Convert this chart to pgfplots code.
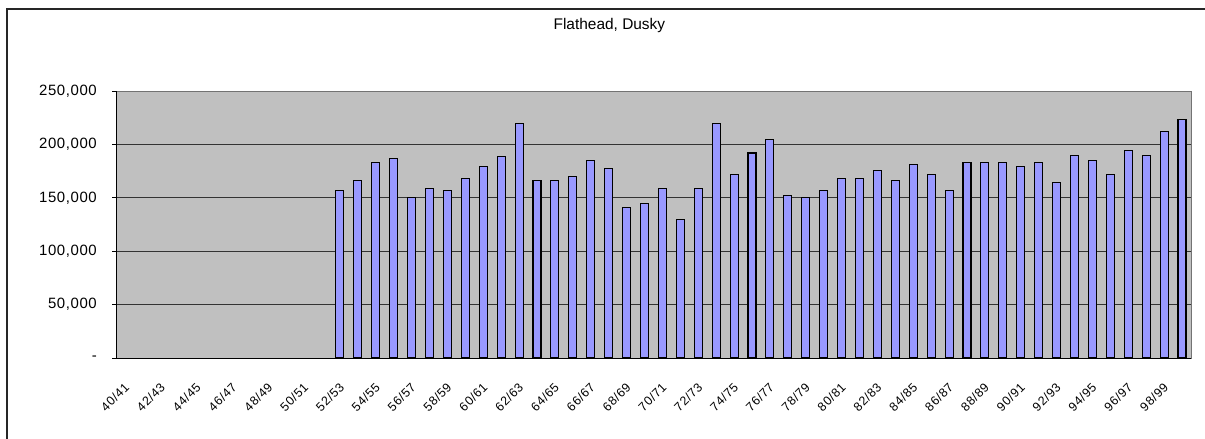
\documentclass[border=0pt]{standalone}
\usepackage{fontspec}
\setmainfont{Liberation Sans}
\usepackage{pgfplots}
\pgfplotsset{compat=1.18}
\definecolor{barblue}{HTML}{9999FF}
\definecolor{plotgray}{HTML}{C0C0C0}
\newfontfamily\ylabfont[LetterSpace=4]{Liberation Sans}
\newfontfamily\xlabfont[LetterSpace=5]{Liberation Sans}
\begin{document}
\begin{tikzpicture}
\path[use as bounding box] (0bp,0bp) rectangle (1205bp,-439bp);
\draw[line width=1.6bp, black!85] (7bp,-440bp) -- (7bp,-9bp) -- (1206bp,-9bp);
\begin{axis}[
  at={(116bp,-358bp)}, anchor=south west,
  scale only axis, width=1075bp, height=267bp,
  xmin=-0.5, xmax=59.5, ymin=0, ymax=250000,
  scaled ticks=false,
  ybar, bar width=8bp,
  axis background/.style={fill=plotgray},
  axis line style={draw=gray!90!black, line width=0.8bp},
  title={Flathead, Dusky},
  title style={at={(0.459,1)}, anchor=center, yshift=59.5bp, font=\fontsize{15.5}{18}\selectfont},
  xtick={0,2,...,58},
  xticklabels={40/41,42/43,44/45,46/47,48/49,50/51,52/53,54/55,56/57,58/59,60/61,62/63,64/65,66/67,68/69,70/71,72/73,74/75,76/77,78/79,80/81,82/83,84/85,86/87,88/89,90/91,92/93,94/95,96/97,98/99},
  xtick style={draw=none},
  minor xtick={-0.5,0.5,...,59.5},
  minor x tick style={black, line width=0.8bp},
  minor tick length=4bp,
  xticklabel style={rotate=45, anchor=north east, inner sep=0pt, font=\xlabfont\fontsize{12.5}{14}\selectfont, xshift=-15bp, yshift=-13bp},
  ytick={0,50000,100000,150000,200000,250000},
  yticklabels={-,50{,}000,100{,}000,150{,}000,200{,}000,250{,}000},
  ymajorgrids,
  major grid style={black!80, line width=0.8bp},
  major tick length=4bp,
  tick align=outside,
  tick pos=left,
  ytick style={black, line width=0.8bp},
  yticklabel style={anchor=east, inner sep=0pt, font=\ylabfont\fontsize{15}{18}\selectfont, xshift=-15bp},
  after end axis/.code={
    \draw[gray!90!black, line width=1bp] (rel axis cs:0,1) -- (rel axis cs:1,1);
    \draw[black, line width=1bp] (rel axis cs:0,0) -- (rel axis cs:0,1);
    \draw[black, line width=1bp] (rel axis cs:0,0) -- (rel axis cs:1,0);
  },
]
\addplot[fill=barblue, draw=black, line width=1.1bp] coordinates {
(12,157000) (13,166500) (14,183000) (15,186500) (16,150000) (17,159000)
(18,157000) (19,168000) (20,179000) (21,188500) (22,219500) (23,166500)
(24,166500) (25,170000) (26,185000) (27,177500) (28,141000) (29,144500)
(30,159000) (31,130000) (32,159000) (33,219500) (34,172000) (35,192000)
(36,205000) (37,152000) (38,150000) (39,157000) (40,168000) (41,168000)
(42,175500) (43,166500) (44,181000) (45,172000) (46,157000) (47,183000)
(48,183000) (49,183000) (50,179000) (51,183000) (52,164500) (53,190000)
(54,185000) (55,172000) (56,194000) (57,190000) (58,212000) (59,223000)
};
\end{axis}
\end{tikzpicture}
\end{document}
